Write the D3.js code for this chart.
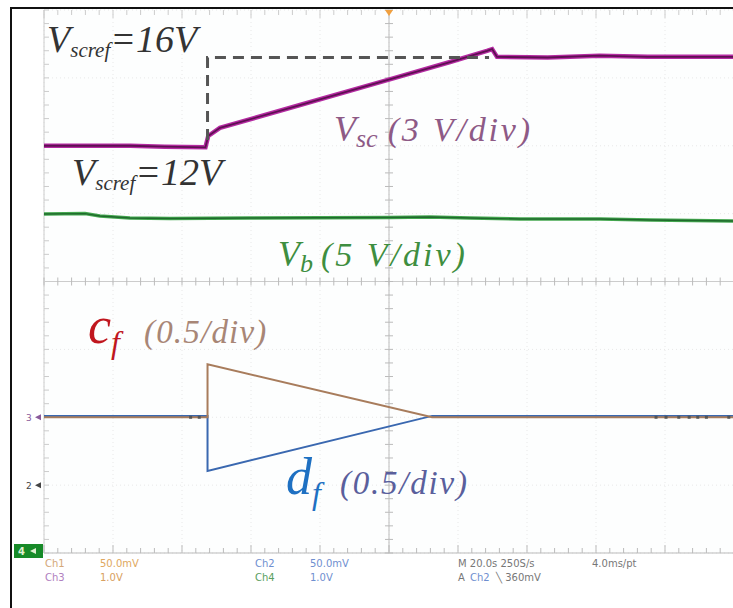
<!DOCTYPE html>
<html><head><meta charset="utf-8">
<script src="https://cdn.jsdelivr.net/npm/d3@7"></script>
<style>html,body{margin:0;padding:0;background:#fff;}svg{display:block;}</style>
</head><body>
<svg id="c" width="733" height="608"></svg>
<script>
// ---- data (time in s, 20 s/div; values in channel units) ----
const vscT = [-100, -75, -65, -53.2, -52.4, -49.0, -25.8, -0.3, 17.7, 28.4, 29.9, 31.3, 46, 61, 75, 100];
const vscV = [12.0, 12.0, 11.96, 11.93, 12.43, 12.79, 13.80, 14.91, 15.70, 16.19, 16.27, 15.93, 15.90, 15.98, 15.93, 15.93];
const refT = [-52.6, -52.6, 29.0];
const refV = [12.25, 15.9, 15.9];
const vbT = [-100, -88.1, -83.8, -75.1, -63.5, -40.3, 0, 11.9, 23.5, 38, 61.2, 75.7, 100];
const vbV = [24.97, 25.0, 24.83, 24.68, 24.64, 24.68, 24.71, 24.75, 24.68, 24.6, 24.6, 24.53, 24.46];
const cfT = [-100, -52.6, -52.6, 12.5, 100];
const cfV = [0, 0, 0.39, 0, 0];
const dfT = [-100, -52.6, -52.6, 12.5, 100];
const dfV = [0.51, 0.51, 0.105, 0.51, 0.51];
const dotT = [-57.5, -55.0, 77.4, 80.3, 84.0, 87.0, 89.5, 92.0, 98.5];
// channel settings: ground position (div) and units per div
const chVsc = {pos: -2, per: 3};
const chVb = {pos: -4, per: 5};
const chCf = {pos: -2, per: 0.5};
const chDf = {pos: -3, per: 0.5};
const statusRow1 = [["Ch1", "#d4a878"], ["50.0mV", "#e0a860"], ["Ch2", "#6f8fd0"], ["50.0mV", "#6f8fd0"], ["M 20.0s 250S/s", "#777"], ["4.0ms/pt", "#777"]];
const statusRow2 = [["Ch3", "#b080c0"], ["1.0V", "#d8a060"], ["Ch4", "#5aa060"], ["1.0V", "#6f8fd0"], ["A", "#777"]];

// ---- layout ----
const svg = d3.select("#c");
const L = 44, R = 734, T = 10, B = 553;
const x = d3.scaleLinear().domain([-100, 100]).range([L, R]);
const y = d3.scaleLinear().domain([-4, 4]).range([B, T]);
const cy = ch => v => y(ch.pos + v / ch.per);

svg.append("rect").attr("width", 733).attr("height", 608).attr("fill", "#fff");
svg.append("rect").attr("x", L).attr("y", T).attr("width", R - L).attr("height", B - T).attr("fill", "#fdfefe");

// grid
const g = svg.append("g");
d3.range(-100, 101, 20).forEach(t => {
  g.append("line").attr("x1", x(t)).attr("x2", x(t)).attr("y1", T).attr("y2", B)
    .attr("stroke", "#e8e8e8").attr("stroke-dasharray", "1,3");
});
d3.range(-4, 5, 1).forEach(d => {
  g.append("line").attr("x1", L).attr("x2", R).attr("y1", y(d)).attr("y2", y(d))
    .attr("stroke", "#e8e8e8").attr("stroke-dasharray", "1,3");
});
// center crosshair and edges
g.append("line").attr("x1", x(0)).attr("x2", x(0)).attr("y1", T).attr("y2", B).attr("stroke", "#bcbcbc");
g.append("line").attr("x1", L).attr("x2", R).attr("y1", y(0)).attr("y2", y(0)).attr("stroke", "#cccccc");
g.append("line").attr("x1", L).attr("x2", L).attr("y1", T).attr("y2", B).attr("stroke", "#cccccc");
g.append("line").attr("x1", L).attr("x2", R).attr("y1", B).attr("y2", B).attr("stroke", "#bbbbbb");
d3.range(-100, 100.1, 4).forEach(t => {
  const big = Math.abs(t % 20) < 0.01;
  g.append("line").attr("x1", x(t)).attr("x2", x(t)).attr("y1", y(0) - 4).attr("y2", y(0) + 4).attr("stroke", "#bbb");
  g.append("line").attr("x1", x(t)).attr("x2", x(t)).attr("y1", T).attr("y2", T + (big ? 8 : 5)).attr("stroke", "#cccccc");
  g.append("line").attr("x1", x(t)).attr("x2", x(t)).attr("y1", B).attr("y2", B - (big ? 8 : 5)).attr("stroke", "#bbbbbb");
});
d3.range(-4, 4.01, 0.2).forEach(d => {
  g.append("line").attr("x1", x(0) - 4).attr("x2", x(0) + 4).attr("y1", y(d)).attr("y2", y(d)).attr("stroke", "#bbb");
  g.append("line").attr("x1", L).attr("x2", L + 5).attr("y1", y(d)).attr("y2", y(d)).attr("stroke", "#cccccc");
});
// trigger marker
svg.append("path").attr("d", `M${x(0) - 4},${T} L${x(0) + 4},${T} L${x(0)},${T + 6} Z`).attr("fill", "#f0a040");

const line = (ts, vs, f) => d3.line().x((d, i) => x(ts[i])).y((d, i) => f(vs[i]))(vs);

// vb green
svg.append("path").attr("d", line(vbT, vbV, cy(chVb))).attr("fill", "none").attr("stroke", "#45a850").attr("stroke-width", 3.5);
svg.append("path").attr("d", line(vbT, vbV, cy(chVb))).attr("fill", "none").attr("stroke", "#1f6a2c").attr("stroke-width", 1.4);
// vsc purple
svg.append("path").attr("d", line(vscT, vscV, cy(chVsc))).attr("fill", "none").attr("stroke", "#b52aa2").attr("stroke-width", 4.5);
svg.append("path").attr("d", line(vscT, vscV, cy(chVsc))).attr("fill", "none").attr("stroke", "#5e1052").attr("stroke-width", 1.8);
// reference dashed
svg.append("path").attr("d", line(refT, refV, cy(chVsc))).attr("fill", "none").attr("stroke", "#555").attr("stroke-width", 3).attr("stroke-dasharray", "11,7");
// cf / df
svg.append("path").attr("d", line(dfT, dfV, cy(chDf))).attr("fill", "none").attr("stroke", "#3a68b0").attr("stroke-width", 2);
svg.append("path").attr("d", line(cfT, cfV, cy(chCf))).attr("fill", "none").attr("stroke", "#a87c5c").attr("stroke-width", 2);
dotT.forEach(t => svg.append("rect").attr("x", x(t) - 1.5).attr("y", cy(chCf)(0) - 1.5).attr("width", 3).attr("height", 3).attr("fill", "#555"));

// channel markers
const mk = (ch, label, col) => {
  const yy = y(ch.pos);
  svg.append("text").attr("x", 26).attr("y", yy + 3.5).attr("font-family", "DejaVu Sans").attr("font-size", 9).attr("fill", col).text(label);
  svg.append("path").attr("d", `M35,${yy} L41,${yy - 3} L41,${yy + 3} Z`).attr("fill", col);
};
mk(chVsc, "3", "#8a5a9a");
mk(chDf, "2", "#444");
svg.append("rect").attr("x", 14).attr("y", 544).attr("width", 29).attr("height", 14).attr("fill", "#178a28");
svg.append("text").attr("x", 18).attr("y", 555).attr("font-family", "DejaVu Sans").attr("font-weight", "bold").attr("font-size", 10).attr("fill", "#dff0d0").text("4");
svg.append("path").attr("d", "M30,551 L36,548 L36,554 Z").attr("fill", "#dff0d0");

// annotations
const serif = "Liberation Serif, Times New Roman, serif";
function label(xx, yy, parts) {
  const t = svg.append("text").attr("x", xx).attr("y", yy).attr("font-family", serif).attr("font-style", "italic");
  parts.forEach(p => {
    const s = t.append("tspan").attr("font-size", p.size).attr("fill", p.color).text(p.text);
    if (p.dy) s.attr("dy", p.dy);
    if (p.dx) s.attr("dx", p.dx);
    if (p.ls) s.attr("letter-spacing", p.ls);
  });
  return t;
}
label(47, 52, [{text: "V", size: 38, color: "#333"}, {text: "scref", size: 21, color: "#333", dy: 5}, {text: "=16V", size: 38, color: "#333", dy: -5}]);
label(72, 185, [{text: "V", size: 38, color: "#333"}, {text: "scref", size: 21, color: "#333", dy: 5}, {text: "=12V", size: 38, color: "#333", dy: -5}]);
label(334, 141, [{text: "V", size: 36, color: "#8e5a86"}, {text: "sc", size: 26, color: "#8e5a86", dy: 6}, {text: "(3 V/div)", size: 34, color: "#8e5a86", dy: -6, dx: 10, ls: 2.8}]);
label(278, 266, [{text: "V", size: 36, color: "#3e8e40"}, {text: "b", size: 26, color: "#3e8e40", dy: 6}, {text: "(5 V/div)", size: 34, color: "#3e8e40", dy: -6, dx: 8, ls: 3}]);
label(88, 343, [{text: "c", size: 52, color: "#c0161e"}, {text: "f", size: 32, color: "#c0161e", dy: 10}, {text: "(0.5/div)", size: 33, color: "#a88676", dy: -10, dx: 24, ls: 1.2}]);
label(286, 494, [{text: "d", size: 52, color: "#1e70c2"}, {text: "f", size: 32, color: "#1e70c2", dy: 10}, {text: "(0.5/div)", size: 33, color: "#5a5f9c", dy: -10, dx: 19, ls: 1.8}]);

// status bar
const sx1 = [45, 100, 255, 310, 458, 592];
statusRow1.forEach((s, i) => svg.append("text").attr("x", sx1[i]).attr("y", 567).attr("font-family", "DejaVu Sans").attr("font-size", 10).attr("fill", s[1]).text(s[0]));
const sx2 = [45, 100, 255, 310, 458];
statusRow2.forEach((s, i) => svg.append("text").attr("x", sx2[i]).attr("y", 581).attr("font-family", "DejaVu Sans").attr("font-size", 10).attr("fill", s[1]).text(s[0]));
svg.append("text").attr("x", 470).attr("y", 581).attr("font-family", "DejaVu Sans").attr("font-size", 10).attr("fill", "#6f8fd0").text("Ch2");
svg.append("text").attr("x", 496).attr("y", 581).attr("font-family", "DejaVu Sans").attr("font-size", 10).attr("fill", "#777").text("\u2572  360mV");

// outer frame
svg.append("line").attr("x1", 11).attr("x2", 733).attr("y1", 8).attr("y2", 8).attr("stroke", "#111").attr("stroke-width", 2);
svg.append("line").attr("x1", 11).attr("x2", 11).attr("y1", 7).attr("y2", 608).attr("stroke", "#111").attr("stroke-width", 2);
</script>
</body></html>
